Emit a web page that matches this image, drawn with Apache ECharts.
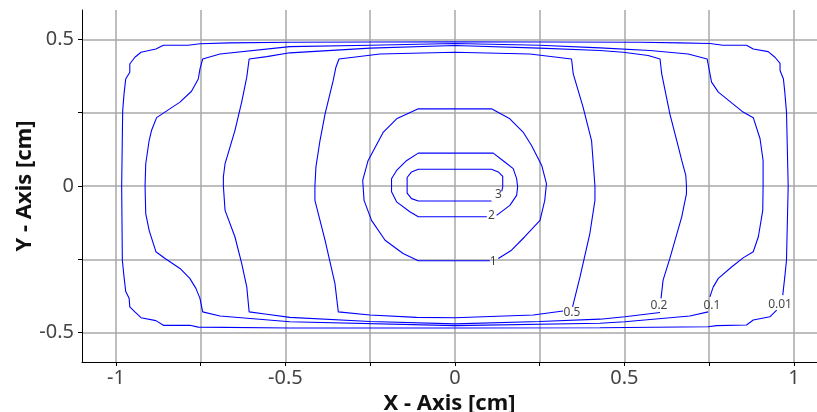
<!DOCTYPE html>
<html>
<head>
<meta charset="utf-8">
<script src="https://cdn.jsdelivr.net/npm/echarts@6/dist/echarts.min.js"></script>
<style>
  html, body { margin: 0; padding: 0; background: #fff; }
  #chart { width: 817px; height: 412px; }
</style>
</head>
<body>
<div id="chart"></div>
<script>
// ticks / labels
const xTicks = [-1, -0.75, -0.5, -0.25, 0, 0.25, 0.5, 0.75, 1];
const xLabels = [-1, -0.5, 0, 0.5, 1];
const yTicks = [-0.5, -0.25, 0, 0.25, 0.5];
const yLabels = [-0.5, 0, 0.5];

// contour lines; each one stops at its label gap
const c001 = [
  [0.949, -0.423], [0.929, -0.446], [0.880, -0.457], [0.860, -0.474], [0.772, -0.476], [0.747, -0.480],
  [0.428, -0.483], [0, -0.484], [-0.487, -0.484], [-0.757, -0.481], [-0.782, -0.475], [-0.860, -0.475],
  [-0.882, -0.459], [-0.926, -0.449], [-0.944, -0.429], [-0.959, -0.412], [-0.961, -0.383], [-0.971, -0.360],
  [-0.976, -0.310], [-0.981, -0.253], [-0.983, 0], [-0.980, 0.257], [-0.976, 0.314], [-0.971, 0.365],
  [-0.959, 0.388], [-0.959, 0.416], [-0.944, 0.439], [-0.926, 0.456], [-0.882, 0.467], [-0.860, 0.480],
  [-0.787, 0.480], [-0.752, 0.485], [-0.664, 0.488], [-0.487, 0.490], [0, 0.492], [0.546, 0.490],
  [0.664, 0.488], [0.752, 0.486], [0.791, 0.480], [0.860, 0.480], [0.880, 0.467], [0.924, 0.458],
  [0.944, 0.439], [0.959, 0.418], [0.959, 0.394], [0.969, 0.365], [0.973, 0.320], [0.978, 0.252],
  [0.983, 0], [0.978, -0.253], [0.973, -0.310], [0.967, -0.372]
];
const c01 = [
  [0.747, -0.429], [0.693, -0.443], [0.501, -0.463], [0.428, -0.468], [0, -0.476], [-0.487, -0.463],
  [-0.693, -0.443], [-0.744, -0.429], [-0.752, -0.383], [-0.764, -0.349], [-0.782, -0.315], [-0.811, -0.281],
  [-0.855, -0.247], [-0.882, -0.224], [-0.902, -0.151], [-0.912, -0.094], [-0.914, 0], [-0.912, 0.076],
  [-0.902, 0.155], [-0.895, 0.189], [-0.880, 0.233], [-0.811, 0.286], [-0.777, 0.323], [-0.757, 0.365],
  [-0.752, 0.399], [-0.744, 0.433], [-0.693, 0.450], [-0.487, 0.475], [-0.25, 0.480], [0, 0.486],
  [0.25, 0.480], [0.428, 0.471], [0.575, 0.462], [0.688, 0.450], [0.744, 0.433], [0.757, 0.354],
  [0.777, 0.320], [0.850, 0.252], [0.880, 0.233], [0.900, 0.161], [0.909, 0.087], [0.909, 0],
  [0.908, -0.083], [0.895, -0.173], [0.880, -0.224], [0.850, -0.245], [0.816, -0.276], [0.777, -0.315],
  [0.762, -0.344], [0.752, -0.378]
];
const c02 = [
  [0.605, -0.431], [0.501, -0.446], [0.428, -0.454], [0.25, -0.462], [0, -0.470], [-0.25, -0.462],
  [-0.487, -0.448], [-0.555, -0.437], [-0.607, -0.429], [-0.614, -0.344], [-0.629, -0.264], [-0.649, -0.173],
  [-0.678, -0.083], [-0.683, 0], [-0.683, 0.031], [-0.678, 0.076], [-0.672, 0.099], [-0.649, 0.189],
  [-0.629, 0.286], [-0.614, 0.371], [-0.607, 0.433], [-0.555, 0.441], [-0.487, 0.454], [-0.25, 0.470],
  [0, 0.479], [0.25, 0.470], [0.428, 0.462], [0.496, 0.456], [0.570, 0.445], [0.605, 0.433],
  [0.610, 0.382], [0.634, 0.246], [0.659, 0.133], [0.669, 0.087], [0.681, 0.036], [0.683, 0],
  [0.683, -0.026], [0.669, -0.105], [0.634, -0.247], [0.614, -0.321], [0.608, -0.383]
];
const c05 = [
  [0.319, -0.426], [0.231, -0.440], [0, -0.449], [-0.113, -0.448], [-0.251, -0.440], [-0.344, -0.429],
  [-0.354, -0.332], [-0.383, -0.185], [-0.413, -0.049], [-0.413, 0], [-0.410, 0.065], [-0.398, 0.155],
  [-0.383, 0.246], [-0.359, 0.360], [-0.351, 0.405], [-0.342, 0.433], [-0.221, 0.450], [0, 0.456],
  [0.221, 0.450], [0.344, 0.433], [0.349, 0.382], [0.378, 0.269], [0.403, 0.155], [0.413, 0],
  [0.413, -0.049], [0.398, -0.162], [0.369, -0.310], [0.347, -0.412]
];
const c1 = [
  [0.103, -0.255], [-0.108, -0.255], [-0.153, -0.230], [-0.206, -0.185], [-0.246, -0.117], [-0.268, -0.049],
  [-0.272, 0.019], [-0.256, 0.087], [-0.211, 0.184], [-0.172, 0.229], [-0.108, 0.263], [0.108, 0.263],
  [0.162, 0.229], [0.201, 0.184], [0.226, 0.138], [0.256, 0.070], [0.270, 0.008], [0.265, -0.049],
  [0.251, -0.117], [0.206, -0.173], [0.167, -0.219], [0.128, -0.247]
];
const c2 = [
  [0.094, -0.105], [-0.108, -0.105], [-0.133, -0.088], [-0.172, -0.054], [-0.187, -0.020], [-0.187, 0.025],
  [-0.172, 0.053], [-0.142, 0.087], [-0.108, 0.112], [0.113, 0.112], [0.147, 0.082], [0.172, 0.059],
  [0.182, 0.025], [0.185, -0.003], [0.182, -0.032], [0.162, -0.066], [0.123, -0.100]
];
const c3 = [
  [0.108, -0.051], [-0.108, -0.051], [-0.128, -0.043], [-0.141, -0.024], [-0.141, 0.029], [-0.128, 0.048],
  [-0.108, 0.057], [0.108, 0.057], [0.128, 0.048], [0.141, 0.033], [0.141, -0.003], [0.138, -0.018]
];

const contourLines = [c001, c01, c02, c05, c1, c2, c3];

// level labels [x, y, text]
const levelLabels = [
  [0.959, -0.403, '0.01'],
  [0.758, -0.406, '0.1'],
  [0.602, -0.409, '0.2'],
  [0.345, -0.431, '0.5'],
  [0.113, -0.258, '1'],
  [0.108, -0.101, '2'],
  [0.128, -0.030, '3']
];

const font = 'Noto Sans';
const chart = echarts.init(document.getElementById('chart'));

const series = contourLines.map(pts => ({
  type: 'line',
  data: pts,
  showSymbol: false,
  symbol: 'none',
  lineStyle: { color: '#0000ff', width: 1.1 },
  z: 3
}));

series.push({
  type: 'scatter',
  data: levelLabels,
  symbolSize: 0,
  z: 5,
  label: {
    show: true,
    position: 'inside',
    formatter: p => p.data[2],
    fontFamily: font,
    fontSize: 12,
    color: '#111'
  }
});

const option = {
  animation: false,
  grid: { left: 82, top: 10, right: 0, bottom: 50, outerBoundsMode: 'none', containLabel: false },
  xAxis: {
    type: 'value',
    min: -1.1,
    max: 1.068,
    name: 'X - Axis [cm]',
    nameLocation: 'middle',
    nameGap: 27,
    nameTextStyle: { fontFamily: font, fontWeight: 'bold', fontSize: 22, color: '#111' },
    axisLine: { onZero: false, lineStyle: { color: '#000', width: 1 } },
    axisTick: { show: true, customValues: xTicks, length: 4, lineStyle: { color: '#000' } },
    axisLabel: { customValues: xLabels, fontFamily: font, fontSize: 20, color: '#444', margin: 6 },
    splitLine: { show: true, lineStyle: { color: '#a8a8a8', width: 1.5 } }
  },
  yAxis: {
    type: 'value',
    min: -0.6,
    max: 0.6,
    name: 'Y - Axis [cm]',
    nameLocation: 'middle',
    nameGap: 46,
    nameMoveOverlap: false,
    nameTextStyle: { fontFamily: font, fontWeight: 'bold', fontSize: 22, color: '#111' },
    axisLine: { show: true, onZero: false, lineStyle: { color: '#000', width: 1 } },
    axisTick: { show: true, customValues: yTicks, length: 4, lineStyle: { color: '#000' } },
    axisLabel: { customValues: yLabels, fontFamily: font, fontSize: 20, color: '#444', margin: 8 },
    splitLine: { show: true, lineStyle: { color: '#a8a8a8', width: 1.5 } }
  },
  series: series
};

chart.setOption(option);
</script>
</body>
</html>
